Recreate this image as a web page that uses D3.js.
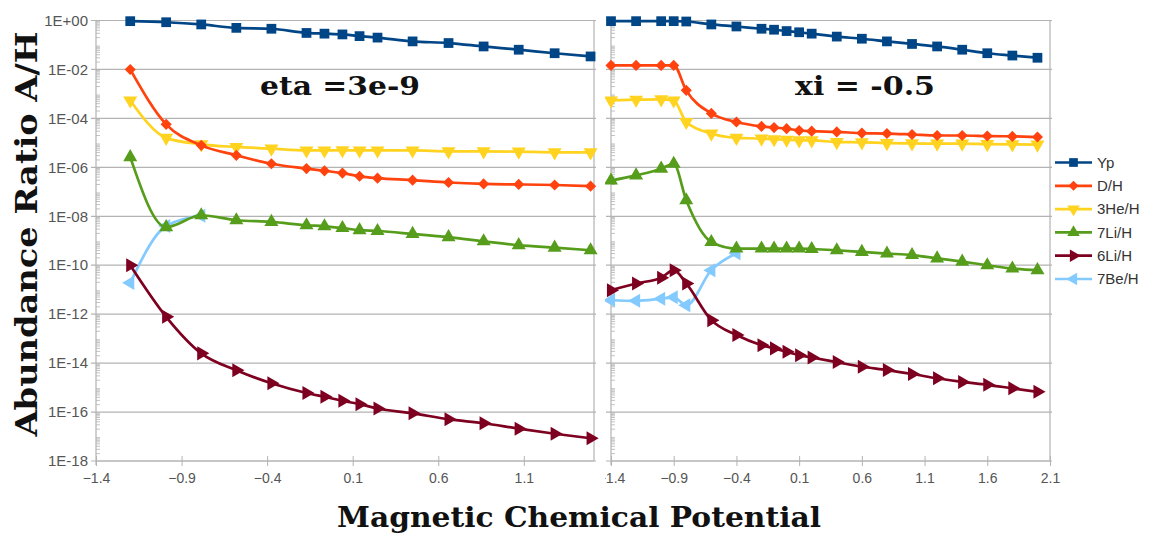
<!DOCTYPE html>
<html><head><meta charset="utf-8">
<script src="https://cdn.jsdelivr.net/npm/d3@7"></script>
<style>body{margin:0;background:#fff}</style>
</head><body>
<svg id="c" width="1155" height="538"></svg>
<script>
// ---------- DATA ----------
const seriesNames = ["Yp","D/H","3He/H","7Li/H","6Li/H","7Be/H"];
const seriesColors = ["#004586","#ff420e","#ffd320","#579d1c","#7e0021","#83caff"];

// left panel (eta = 3e-9)
const xLeft = [-1.2,-0.99,-0.785,-0.58,-0.375,-0.17,-0.065,0.04,0.14,0.245,0.45,0.66,0.865,1.07,1.28,1.49];
const leftYp  = [0.94,0.85,0.69,0.50,0.46,0.31,0.29,0.27,0.23,0.20,0.14,0.12,0.087,0.064,0.046,0.034];
const leftDH  = [1.0e-2,5.7e-5,7.9e-6,3.1e-6,1.4e-6,8.9e-7,7.2e-7,5.8e-7,4.3e-7,3.6e-7,3.0e-7,2.4e-7,2.1e-7,2.0e-7,1.9e-7,1.7e-7];
const left3He = [5.4e-4,1.6e-5,8.7e-6,6.8e-6,5.8e-6,4.9e-6,4.9e-6,5.0e-6,4.9e-6,4.9e-6,4.9e-6,4.5e-6,4.5e-6,4.4e-6,4.1e-6,4.1e-6];
const left7Li = [2.6e-6,3.6e-9,1.1e-8,6.9e-9,5.9e-9,4.3e-9,3.9e-9,3.3e-9,2.7e-9,2.5e-9,1.9e-9,1.4e-9,9.5e-10,6.6e-10,5.2e-10,4.1e-10];
const left6Li = [1.0e-10,7.8e-13,2.5e-14,5.1e-15,1.5e-15,6.0e-16,4.2e-16,2.9e-16,2.1e-16,1.4e-16,8.9e-17,5.1e-17,3.5e-17,2.1e-17,1.3e-17,8.5e-18];
const left7Be = [1.9e-11,4.0e-9,1.05e-8,null,null,null,null,null,null,null,null,null,null,null,null,null];

// right panel (xi = -0.5)
const xRight = [-1.4,-1.2,-1.0,-0.9,-0.8,-0.6,-0.4,-0.2,-0.1,0.0,0.1,0.2,0.4,0.6,0.8,1.0,1.2,1.4,1.6,1.8,2.0];
const rightYp  = [0.94,0.94,0.94,0.94,0.91,0.69,0.57,0.46,0.42,0.37,0.33,0.29,0.22,0.18,0.14,0.11,0.087,0.064,0.046,0.037,0.030];
const rightDH  = [1.46e-2,1.46e-2,1.46e-2,1.46e-2,1.4e-3,1.6e-4,7.1e-5,4.7e-5,4.2e-5,3.8e-5,3.2e-5,3.0e-5,2.8e-5,2.5e-5,2.4e-5,2.2e-5,2.0e-5,2.0e-5,1.9e-5,1.84e-5,1.73e-5];
const right3He = [5.4e-4,5.8e-4,6.0e-4,5.4e-4,7.1e-5,2.4e-5,1.6e-5,1.5e-5,1.4e-5,1.35e-5,1.26e-5,1.26e-5,1.08e-5,1.05e-5,9.8e-6,9.5e-6,9.3e-6,9.3e-6,8.9e-6,8.7e-6,8.5e-6];
const right7Li = [2.9e-7,4.7e-7,8.8e-7,1.4e-6,4.5e-8,8.9e-10,4.8e-10,4.8e-10,4.8e-10,4.8e-10,4.8e-10,4.6e-10,4.1e-10,3.5e-10,3.0e-10,2.6e-10,1.9e-10,1.4e-10,1.0e-10,7.3e-11,6.3e-11];
const right6Li = [9.5e-12,1.8e-11,3.1e-11,6.3e-11,1.8e-11,5.7e-13,1.4e-13,5.4e-14,4.0e-14,2.9e-14,2.1e-14,1.7e-14,1.1e-14,7.1e-15,5.2e-15,3.6e-15,2.4e-15,1.7e-15,1.3e-15,9.3e-16,6.7e-16];
const right7Be = [3.7e-12,3.5e-12,4.3e-12,4.9e-12,2.3e-12,6.3e-11,3.1e-10,null,null,null,null,null,null,null,null,null,null,null,null,null,null];

const yTickValues = [1,1e-2,1e-4,1e-6,1e-8,1e-10,1e-12,1e-14,1e-16,1e-18];
const yTickLabels = ["1E+00","1E-02","1E-04","1E-06","1E-08","1E-10","1E-12","1E-14","1E-16","1E-18"];
const xLeftTicks = [-1.4,-0.9,-0.4,0.1,0.6,1.1];
const xRightTicks = [-1.4,-0.9,-0.4,0.1,0.6,1.1,1.6,2.1];
const leftTitle = "eta =3e-9";
const rightTitle = "xi = -0.5";
const yTitle = "Abundance Ratio A/H";
const xTitle = "Magnetic Chemical Potential";

// ---------- DRAW ----------
const svg = d3.select("#c");
svg.append("rect").attr("width",1155).attr("height",538).attr("fill","#fff");

const y = d3.scaleLog().domain([1,1e-18]).range([20.5,461]);
const gridCol = "#b3b3b3";

const symDefs = [
  {t:d3.symbolSquare, s:95, r:0},
  {t:d3.symbolSquare, s:62, r:45},
  {t:d3.symbolTriangle, s:85, r:180},
  {t:d3.symbolTriangle, s:85, r:0},
  {t:d3.symbolTriangle, s:85, r:90},
  {t:d3.symbolTriangle, s:85, r:-90}
];

function drawPanel(g, x, xs, vals, xTicks, xRightEdge, curve) {
  const x0 = x.range()[0];
  // gridlines
  g.selectAll(".grid").data(yTickValues).join("line")
    .attr("x1", x0-5).attr("x2", xRightEdge+2)
    .attr("y1", d=>y(d)).attr("y2", d=>y(d))
    .attr("stroke", gridCol).attr("stroke-width",1.2);
  // minor ticks
  const minors = [];
  for (let e=-18; e<0; e++) for (let m=2; m<=9; m++) minors.push(m*Math.pow(10,e));
  g.selectAll(".minor").data(minors).join("line")
    .attr("x1", x0).attr("x2", x0+4)
    .attr("y1", d=>y(d)).attr("y2", d=>y(d))
    .attr("stroke", gridCol).attr("stroke-width",0.8);
  // y axis line
  g.append("line").attr("x1",x0).attr("x2",x0).attr("y1",y(1)).attr("y2",y(1e-18)+4)
    .attr("stroke",gridCol).attr("stroke-width",1.2);
  // right border
  g.append("line").attr("x1",xRightEdge).attr("x2",xRightEdge).attr("y1",y(1)).attr("y2",y(1e-18))
    .attr("stroke",gridCol).attr("stroke-width",1.2);
  // x axis
  const xa = d3.axisBottom(x).tickValues(xTicks).tickFormat(d3.format(".1f")).tickSize(5).tickPadding(4);
  const ax = g.append("g").attr("transform",`translate(0,${y(1e-18)})`).call(xa);
  ax.select(".domain").attr("stroke",gridCol).attr("stroke-width",1.2).attr("d",`M${x0},0H${xRightEdge}`);
  ax.selectAll(".tick line").attr("stroke",gridCol).attr("y1",-5).attr("y2",5);
  ax.selectAll(".tick text").attr("font-family","Liberation Sans, Arial, sans-serif")
    .attr("font-size",14).attr("fill","#555").attr("dy","0.9em");
  // series, drawn last-first so Yp ends up on top
  for (let i=vals.length-1; i>=0; i--) {
    const pts = xs.map((xv,k)=>[xv, vals[i][k]]).filter(p=>p[1]!=null);
    const line = d3.line().x(p=>x(p[0])).y(p=>y(p[1])).curve(curve);
    g.append("path").attr("d", line(pts)).attr("fill","none")
      .attr("stroke", seriesColors[i]).attr("stroke-width",2.7).attr("stroke-linejoin","round");
    const sd = symDefs[i];
    const sym = d3.symbol().type(sd.t).size(sd.s);
    g.selectAll(null).data(pts).join("path")
      .attr("d", sym())
      .attr("transform", p=>`translate(${x(p[0])},${y(p[1])}) rotate(${sd.r})`)
      .attr("fill", seriesColors[i]);
  }
}

// right panel first (left one overlaps it)
const gR = svg.append("g");
const xR = d3.scaleLinear().domain([-1.4,2.1]).range([611,1050]);
drawPanel(gR, xR, xRight, [rightYp,rightDH,right3He,right7Li,right6Li,right7Be], xRightTicks, 1050, d3.curveMonotoneX);

// left panel with its white background
const gL = svg.append("g");
gL.append("rect").attr("x",0).attr("y",0).attr("width",605).attr("height",490).attr("fill","#fff");
const xL = d3.scaleLinear().domain([-1.4,1.51]).range([96,594]);
drawPanel(gL, xL, xLeft, [leftYp,leftDH,left3He,left7Li,left6Li,left7Be], xLeftTicks, 594, d3.curveMonotoneX);

// left y tick labels
gL.selectAll(".ylab").data(yTickValues).join("text")
  .attr("x", 88).attr("y", d=>y(d)).attr("dy","0.35em").attr("text-anchor","end")
  .attr("font-family","Liberation Sans, Arial, sans-serif").attr("font-size",15).attr("fill","#555")
  .text((d,i)=>yTickLabels[i]);

// titles
const serif = "DejaVu Serif, serif";
svg.append("text").attr("x",260).attr("y",95).attr("font-family",serif).attr("font-weight","bold")
  .attr("font-size",26).attr("fill","#111").attr("textLength",160).attr("lengthAdjust","spacingAndGlyphs").text(leftTitle);
svg.append("text").attr("x",795).attr("y",95).attr("font-family",serif).attr("font-weight","bold")
  .attr("font-size",26).attr("fill","#111").attr("textLength",140).attr("lengthAdjust","spacingAndGlyphs").text(rightTitle);
svg.append("text").attr("transform","translate(37,234) rotate(-90)").attr("text-anchor","middle")
  .attr("font-family",serif).attr("font-weight","bold").attr("font-size",30).attr("fill","#111")
  .attr("textLength",405).attr("lengthAdjust","spacingAndGlyphs").text(yTitle);
svg.append("text").attr("x",579).attr("y",527).attr("text-anchor","middle")
  .attr("font-family",serif).attr("font-weight","bold").attr("font-size",27).attr("fill","#111")
  .attr("textLength",484).attr("lengthAdjust","spacingAndGlyphs").text(xTitle);

// legend
const lg = svg.append("g");
seriesNames.forEach((name,i)=>{
  const ly = 162.5 + i*23.3;
  lg.append("line").attr("x1",1055).attr("x2",1092).attr("y1",ly).attr("y2",ly)
    .attr("stroke",seriesColors[i]).attr("stroke-width",2.7);
  const sd = symDefs[i];
  lg.append("path").attr("d", d3.symbol().type(sd.t).size(sd.s*0.8)())
    .attr("transform",`translate(1073.5,${ly}) rotate(${sd.r})`).attr("fill",seriesColors[i]);
  lg.append("text").attr("x",1097).attr("y",ly).attr("dy","0.35em")
    .attr("font-family","Liberation Sans, Arial, sans-serif").attr("font-size",15).attr("fill","#333")
    .text(name);
});
</script>
</body></html>
